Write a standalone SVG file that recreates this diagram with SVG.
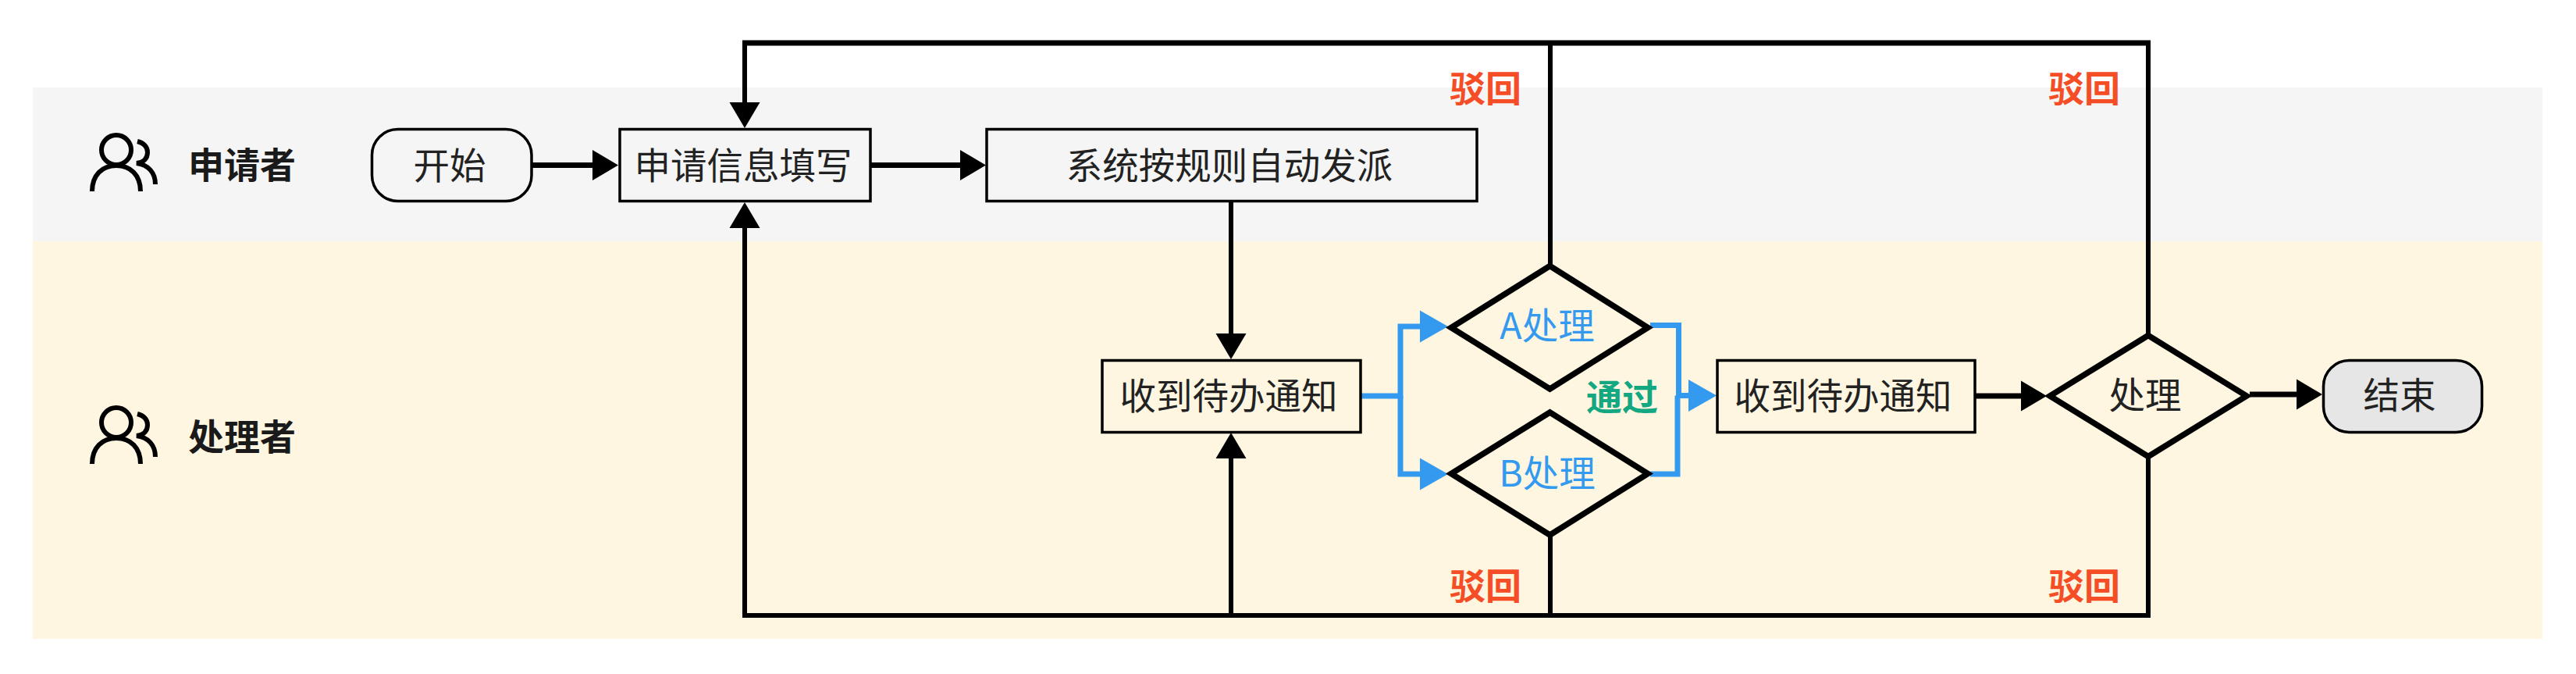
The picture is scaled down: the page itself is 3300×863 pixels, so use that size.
<svg xmlns="http://www.w3.org/2000/svg" width="3300" height="863" viewBox="0 0 3300 863">
<style>
text{font-family:"Noto Sans CJK SC","Noto Sans",sans-serif;font-size:46.500px;text-anchor:middle;fill:#222}
.b{font-weight:700;font-size:46px;fill:#1a1a1a}
.red{fill:#f54d26}
.green{fill:#14a882}
.blue{fill:#339af0}
.shape{fill:none;stroke:#000;stroke-width:3.500}
.dia{fill:none;stroke:#000;stroke-width:7.500;stroke-linejoin:miter}
.k{fill:none;stroke:#000;stroke-width:6}
.top{fill:none;stroke:#000;stroke-width:7}
.kb{fill:none;stroke:#339af0;stroke-width:7}
.ic{fill:none;stroke:#000;stroke-width:6}
</style>
<defs>
<marker id="ak" markerUnits="userSpaceOnUse" markerWidth="36" markerHeight="40" refX="13" refY="20" orient="auto"><path d="M0 .5L33 20L0 39.500z" fill="#000"/></marker>
<marker id="ab" markerUnits="userSpaceOnUse" markerWidth="37" markerHeight="42" refX="16" refY="21" orient="auto"><path d="M0 .5L36 21L0 41.500z" fill="#339af0"/></marker>
<g id="people"><circle cx="149" cy="192" r="19" class="ic"/><path class="ic" d="M118 245C118 224 131 212 149 212C167 212 180 224 180 245"/><path class="ic" d="M176 181C184 183 189 188 189 195C189 203 184 208 175 209C190 211 199 221 199 236"/></g>
</defs>
<g id="lanes">
<rect x="42" y="112" width="3215" height="197" fill="#f5f5f5"/>
<rect x="42" y="309" width="3215" height="509" fill="#fef6e1"/>
</g>
<g id="connectors">
<path class="top" d="M682 211.500H772" marker-end="url(#ak)"/>
<path class="top" d="M1115 211.500H1243" marker-end="url(#ak)"/>
<path class="k" d="M1577 259V440" marker-end="url(#ak)"/>
<path class="kb" d="M1743 507H1794V418H1835" marker-end="url(#ab)"/>
<path class="kb" d="M1794 507V607H1835" marker-end="url(#ab)"/>
<path class="kb" d="M2114 416.500H2150.500V506.500H2179" marker-end="url(#ab)"/>
<path class="kb" d="M2114 607H2149V506.500"/>
<path class="top" d="M2530 507H2602" marker-end="url(#ak)"/>
<path class="top" d="M2882 505H2955" marker-end="url(#ak)"/>
<path class="k" d="M1986 339V55M954 55V144" marker-end="url(#ak)"/>
<path class="k" d="M2752 427V55"/>
<path class="top" d="M951 55H2755"/>
<path class="k" d="M1986 687V788H954V279" marker-end="url(#ak)"/>
<path class="k" d="M2752 587V788H1577V574" marker-end="url(#ak)"/>
</g>
<g id="lane-applicant"><use href="#people"/><text class="b" x="310" y="227.500">申请者</text></g>
<g id="lane-handler"><use href="#people" y="349"/><text class="b" x="310" y="575.500">处理者</text></g>
<g id="start"><rect class="shape" x="476.500" y="165.500" width="204.500" height="92" rx="33" ry="33"/><text x="576" y="229">开始</text></g>
<g id="apply"><rect class="shape" x="794" y="165.500" width="321" height="92"/><text x="952" y="229">申请信息填写</text></g>
<g id="dispatch"><rect class="shape" x="1264" y="165.500" width="628" height="92"/><text x="1575" y="229">系统按规则自动发派</text></g>
<g id="notice1"><rect class="shape" x="1412" y="461.500" width="331" height="92"/><text x="1574" y="524">收到待办通知</text></g>
<g id="a"><path class="dia" d="M1985.500 340.500L2111 419.500L1985.500 498L1859 419.500z"/><text class="blue" x="1982" y="434">A处理</text></g>
<g id="b"><path class="dia" d="M1985.500 528L2111 606.500L1985.500 685L1859 606.500z"/><text class="blue" x="1982" y="623">B处理</text></g>
<g id="notice2"><rect class="shape" x="2200" y="461.500" width="330" height="92"/><text x="2361" y="524">收到待办通知</text></g>
<g id="check"><path class="dia" d="M2752 429.500L2878 507L2752 584.500L2626 507z"/><text x="2748" y="523">处理</text></g>
<g id="end"><rect class="shape" x="2976.500" y="461.500" width="203" height="92" rx="33" ry="33" style="fill:#e6e6e6"/><text x="3074" y="523">结束</text></g>
<g id="labels">
<text class="b red" x="1903" y="130">驳回</text>
<text class="b red" x="2670" y="130">驳回</text>
<text class="b red" x="1903" y="767">驳回</text>
<text class="b red" x="2670" y="767">驳回</text>
<text class="b green" x="2078" y="525">通过</text>
</g>
</svg>
